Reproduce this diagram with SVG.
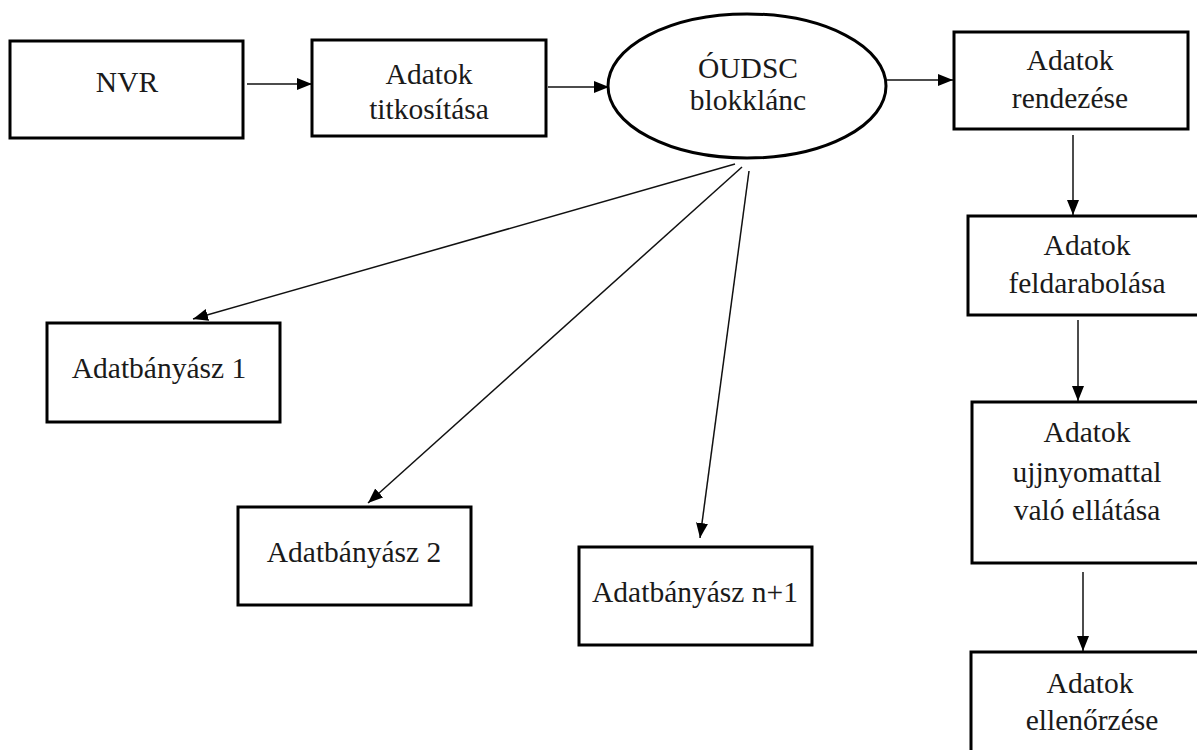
<svg xmlns="http://www.w3.org/2000/svg" width="1197" height="750" viewBox="0 0 1197 750">
  <style>
    .box { fill: #fff; stroke: #000; stroke-width: 3; }
    .oval { fill: #fff; stroke: #000; stroke-width: 3; }
    .lbl { font-family: "Liberation Serif", "Times New Roman", serif; font-size: 29.5px; fill: #1a1a1a; text-anchor: middle; }
    .edge { stroke: #111; stroke-width: 1.5; fill: none; marker-end: url(#arrow); }
  </style>
  <defs>
    <marker id="arrow" markerUnits="userSpaceOnUse" markerWidth="15" markerHeight="12" refX="15" refY="6" orient="auto">
      <path d="M0,0 L15,6 L0,12 z" fill="#000"/>
    </marker>
  </defs>
  <rect width="1197" height="750" fill="#fff"/>

  <g id="connectors">
    <line class="edge" x1="247" y1="84" x2="312" y2="84"/>
    <line class="edge" x1="548" y1="87" x2="609" y2="87"/>
    <line class="edge" x1="887" y1="80" x2="953" y2="80"/>
    <line class="edge" x1="1073" y1="135" x2="1073" y2="215"/>
    <line class="edge" x1="1078" y1="320" x2="1078" y2="401"/>
    <line class="edge" x1="1083" y1="572" x2="1083" y2="651"/>
    <line class="edge" x1="735" y1="164" x2="193" y2="319"/>
    <line class="edge" x1="742" y1="167" x2="368" y2="503"/>
    <line class="edge" x1="749" y1="171" x2="700" y2="538"/>
  </g>

  <g id="nvr">
    <rect class="box" x="10" y="41" width="233" height="97"/>
    <text class="lbl" x="127" y="92">NVR</text>
  </g>

  <g id="titkositas">
    <rect class="box" x="312" y="40" width="234" height="96"/>
    <text class="lbl" x="429" y="84">Adatok</text>
    <text class="lbl" x="429" y="119">titkosítása</text>
  </g>

  <g id="blokklanc">
    <ellipse class="oval" cx="747" cy="86" rx="139" ry="72"/>
    <text class="lbl" x="748" y="78">ÓUDSC</text>
    <text class="lbl" x="748" y="110">blokklánc</text>
  </g>

  <g id="rendezes">
    <rect class="box" x="954" y="32" width="234" height="97"/>
    <text class="lbl" x="1070" y="70">Adatok</text>
    <text class="lbl" x="1070" y="108">rendezése</text>
  </g>

  <g id="feldarabolas">
    <rect class="box" x="968" y="216" width="240" height="99"/>
    <text class="lbl" x="1087" y="255">Adatok</text>
    <text class="lbl" x="1087" y="293">feldarabolása</text>
  </g>

  <g id="ujjnyomat">
    <rect class="box" x="972" y="402" width="240" height="161"/>
    <text class="lbl" x="1087" y="442">Adatok</text>
    <text class="lbl" x="1087" y="482">ujjnyomattal</text>
    <text class="lbl" x="1087" y="520">való ellátása</text>
  </g>

  <g id="ellenorzes">
    <rect class="box" x="971" y="652" width="240" height="110"/>
    <text class="lbl" x="1090" y="693">Adatok</text>
    <text class="lbl" x="1092" y="730">ellenőrzése</text>
  </g>

  <g id="banyasz1">
    <rect class="box" x="47" y="323" width="233" height="99"/>
    <text class="lbl" x="159" y="378">Adatbányász 1</text>
  </g>

  <g id="banyasz2">
    <rect class="box" x="238" y="507" width="233" height="98"/>
    <text class="lbl" x="354" y="562">Adatbányász 2</text>
  </g>

  <g id="banyaszn1">
    <rect class="box" x="579" y="547" width="233" height="98"/>
    <text class="lbl" x="695" y="602">Adatbányász n+1</text>
  </g>
</svg>
